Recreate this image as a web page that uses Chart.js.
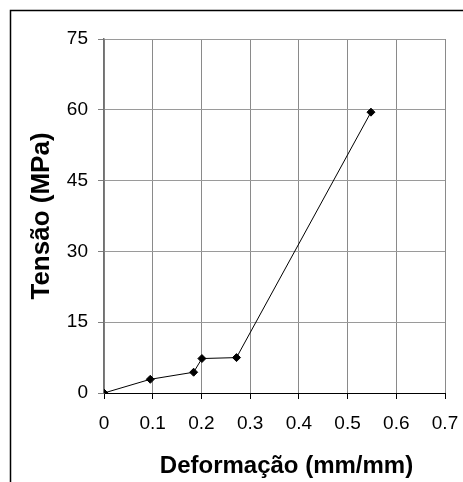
<!DOCTYPE html>
<html>
<head>
<meta charset="utf-8">
<script src="https://cdn.jsdelivr.net/npm/chart.js@4.4.0/dist/chart.umd.min.js"></script>
<style>
  html, body { margin: 0; padding: 0; background: #fff; }
  #wrap { position: relative; width: 463px; height: 482px; }
</style>
</head>
<body>
<div id="wrap"><canvas id="myChart" width="463" height="482"></canvas></div>
<script>
// Data
const strain = [0, 0.095, 0.184, 0.201, 0.272, 0.548];   // Deformação (mm/mm)
const stress = [0, 2.9, 4.4, 7.3, 7.5, 59.5];            // Tensão (MPa)
const xTicks = [0, 0.1, 0.2, 0.3, 0.4, 0.5, 0.6, 0.7];
const yTicks = [0, 15, 30, 45, 60, 75];
const xTitle = 'Deformação (mm/mm)';
const yTitle = 'Tensão (MPa)';

const fontFamily = 'Liberation Sans, Arial, sans-serif';
const tickFont = { family: fontFamily, size: 19 };
const yTitleFont = { family: fontFamily, size: 26, weight: 'bold' };

// Outer frame (only left and top edges are visible in the picture)
// and the x axis title, which sits a little right of the plot centre
const framePlugin = {
    id: 'frame',
    beforeDraw(chart) {
        const c = chart.ctx;
        c.save();
        c.strokeStyle = '#000';
        c.lineWidth = 1.5;
        c.beginPath();
        c.moveTo(10.5, chart.height);
        c.lineTo(10.5, 10.5);
        c.lineTo(chart.width, 10.5);
        c.stroke();
        c.restore();
    },
    afterDraw(chart) {
        const c = chart.ctx;
        const area = chart.chartArea;
        c.save();
        c.fillStyle = '#000';
        c.font = 'bold 24px ' + fontFamily;
        c.textAlign = 'center';
        c.textBaseline = 'middle';
        c.fillText(xTitle, (area.left + area.right) / 2 + 12, area.bottom + 73);
        c.restore();
    }
};

const ctx = document.getElementById('myChart').getContext('2d');
const myChart = new Chart(ctx, {
    type: 'line',
    data: {
        datasets: [{
            data: strain.map((x, i) => ({ x: x, y: stress[i] })),
            borderColor: '#000',
            borderWidth: 1,
            backgroundColor: '#000',
            pointStyle: 'rectRot',
            pointRadius: 4,
            pointBackgroundColor: '#000',
            pointBorderColor: '#000',
            tension: 0,
            fill: false
        }]
    },
    options: {
        responsive: false,
        animation: false,
        layout: { padding: { left: 10, top: 39, right: 18, bottom: 0 } },
        plugins: {
            legend: { display: false },
            tooltip: { enabled: false }
        },
        scales: {
            x: {
                type: 'linear',
                min: 0,
                max: 0.7,
                afterBuildTicks: scale => { scale.ticks = xTicks.map(v => ({ value: v })); },
                afterFit: scale => {
                    scale.height = 89;
                    scale.paddingLeft = 0;
                    scale.paddingRight = 0;
                },
                ticks: {
                    color: '#000',
                    font: tickFont,
                    padding: 13,
                    maxRotation: 0,
                    callback: v => String(v)
                },
                grid: {
                    color: '#8a8a8a',
                    tickColor: '#000',
                    tickLength: 6,
                    drawTicks: true
                },
                border: { color: '#000', width: 1 },
                title: { display: false }
            },
            y: {
                type: 'linear',
                min: 0,
                max: 75,
                afterBuildTicks: scale => { scale.ticks = yTicks.map(v => ({ value: v })); },
                afterFit: scale => {
                    scale.width = 94;
                    scale.paddingTop = 0;
                    scale.paddingBottom = 0;
                },
                ticks: {
                    color: '#000',
                    font: tickFont,
                    padding: 10,
                    callback: v => String(v)
                },
                grid: {
                    color: '#9a9a9a',
                    tickColor: '#808080',
                    tickLength: 6
                },
                border: { color: '#707070', width: 1.5 },
                title: {
                    display: true,
                    text: yTitle,
                    color: '#000',
                    font: yTitleFont,
                    padding: { top: 16, bottom: 0 }
                }
            }
        }
    },
    plugins: [framePlugin]
});
</script>
</body>
</html>
